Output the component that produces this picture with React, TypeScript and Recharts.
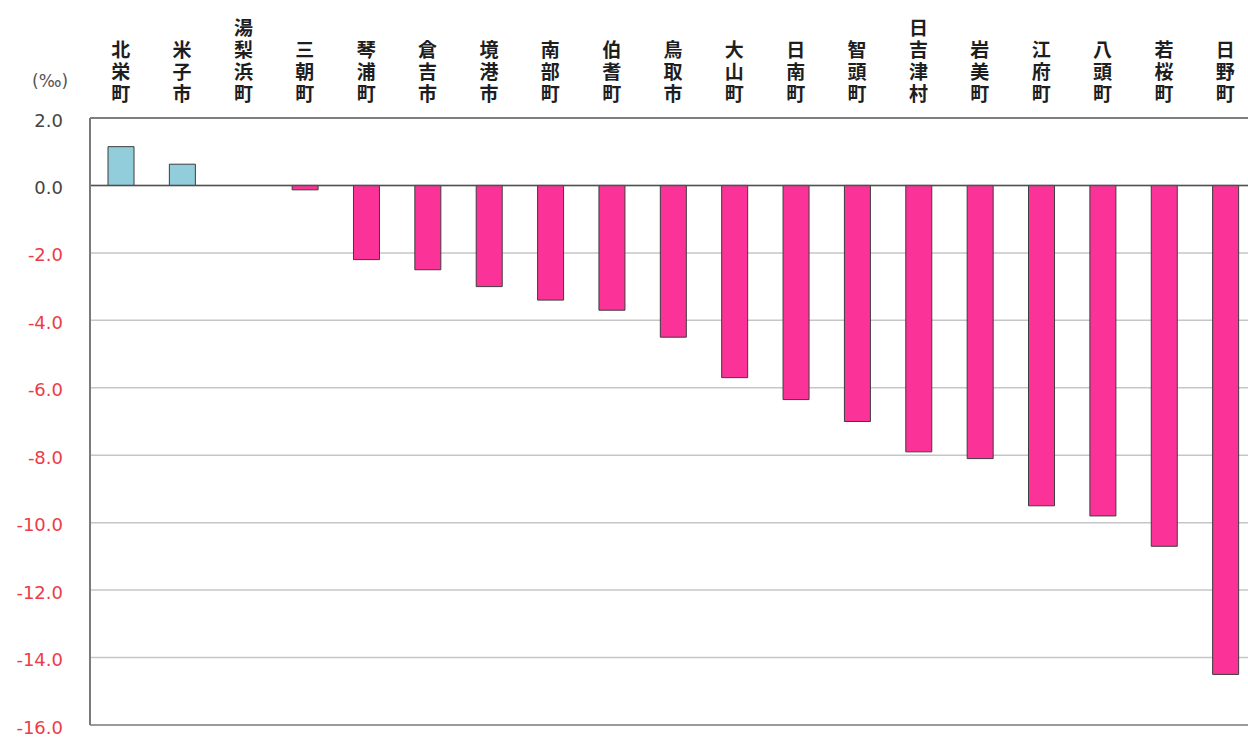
import React from "react";
import { BarChart, Bar, XAxis, YAxis, CartesianGrid, ReferenceLine, Cell } from "recharts";

// Municipalities, ordered from highest to lowest rate
const municipalities = [
  "北栄町", "米子市", "湯梨浜町", "三朝町", "琴浦町", "倉吉市", "境港市", "南部町", "伯耆町", "鳥取市",
  "大山町", "日南町", "智頭町", "日吉津村", "岩美町", "江府町", "八頭町", "若桜町", "日野町",
];

// Rate per municipality (‰)
const rates = [
  1.15, 0.63, 0.0, -0.13, -2.2, -2.5, -3.0, -3.4, -3.7, -4.5,
  -5.7, -6.35, -7.0, -7.9, -8.1, -9.5, -9.8, -10.7, -14.5,
];

const yTicks = [2, 0, -2, -4, -6, -8, -10, -12, -14, -16];

const data = municipalities.map((name, i) => ({ name, value: rates[i] }));

const POS_FILL = "#92cddc";
const NEG_FILL = "#fb3399";

// Category names are set vertically, bottom-aligned just above the plot
const NameTick = (props: any) => {
  const { x, y, payload } = props;
  const label = String(payload.value);
  const n = Array.from(label).length;
  const step = 22;
  const fontSize = 19;
  const top = y - 13 - n * step + (step - fontSize) / 2;
  return (
    <text
      x={x}
      y={top}
      textAnchor="start"
      fontFamily="'Noto Sans CJK JP', sans-serif"
      fontSize={fontSize}
      fontWeight={700}
      fill="#1e1e1e"
      style={{ writingMode: "vertical-rl", letterSpacing: step - fontSize }}
    >
      {label}
    </text>
  );
};

const ValueTick = (props: any) => {
  const { x, y, payload } = props;
  const v = payload.value as number;
  return (
    <text
      x={x}
      y={y + 2}
      textAnchor="end"
      dominantBaseline="central"
      fontFamily="'DejaVu Sans', sans-serif"
      fontSize={18}
      fill={v < 0 ? "#ee3b48" : "#444444"}
    >
      {v.toFixed(1)}
    </text>
  );
};

export default function App() {
  return (
    <div
      style={{
        position: "fixed",
        left: 0,
        top: 0,
        width: 1248,
        height: 738,
        overflow: "hidden",
        background: "#ffffff",
      }}
    >
      <BarChart
        width={1256}
        height={738}
        data={data}
        margin={{ top: 10, right: 0, left: 0, bottom: 13 }}
        barCategoryGap={0}
      >
        <CartesianGrid vertical={false} stroke="#c6c6c6" strokeWidth={1.5} />
        <XAxis
          dataKey="name"
          orientation="top"
          height={108}
          axisLine={false}
          tickLine={false}
          tickSize={0}
          tickMargin={0}
          interval={0}
          tick={<NameTick />}
        />
        <YAxis
          type="number"
          domain={[-16, 2]}
          ticks={yTicks}
          width={90}
          interval={0}
          tickLine={false}
          tickSize={0}
          tickMargin={27}
          axisLine={{ stroke: "#7a7a7a", strokeWidth: 2 }}
          tick={<ValueTick />}
        />
        <ReferenceLine y={2} stroke="#7f7f7f" strokeWidth={2} />
        <ReferenceLine y={-16} stroke="#9a9a9a" strokeWidth={2} />
        <ReferenceLine y={0} stroke="#505050" strokeWidth={1.5} />
        <Bar dataKey="value" barSize={26} isAnimationActive={false} stroke="#3c3c3c" strokeWidth={1}>
          {data.map((d, i) => (
            <Cell key={i} fill={d.value >= 0 ? POS_FILL : NEG_FILL} />
          ))}
        </Bar>
      </BarChart>
      <div
        style={{
          position: "absolute",
          left: 32,
          top: 71,
          fontFamily: "'DejaVu Sans', sans-serif",
          fontSize: 17,
          color: "#555555",
          whiteSpace: "nowrap",
        }}
      >
        (‰)
      </div>
    </div>
  );
}
